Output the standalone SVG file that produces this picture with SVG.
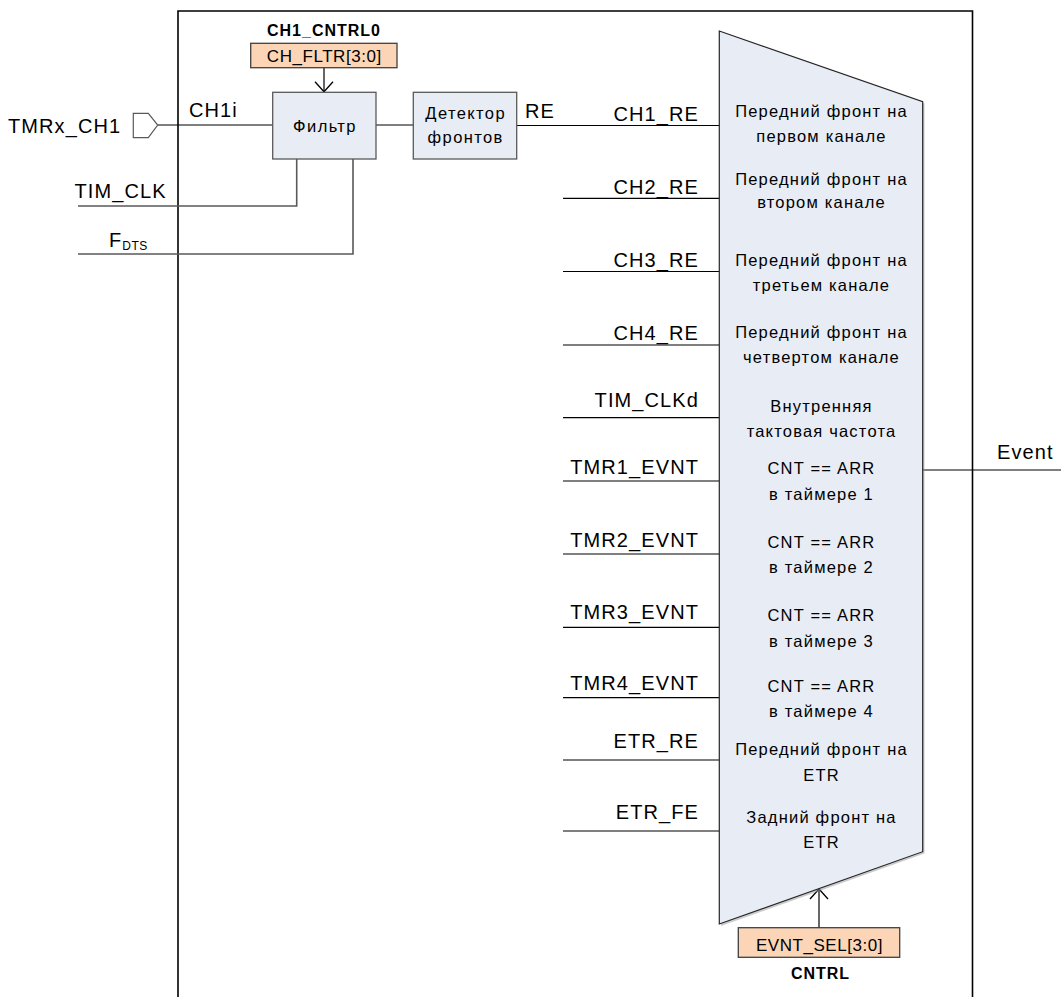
<svg xmlns="http://www.w3.org/2000/svg" width="1061" height="997" viewBox="0 0 1061 997">
  <style>
    text { font-family: "Liberation Sans", Arial, sans-serif; fill: #000; }
    .lbl { font-size: 20px; letter-spacing: 1.1px; }
    .lblr { font-size: 20px; letter-spacing: 1.1px; text-anchor: end; }
    .mux { font-size: 16.5px; letter-spacing: 1.2px; text-anchor: middle; }
    .box { font-size: 16.5px; letter-spacing: 1.4px; text-anchor: middle; }
    .reg { font-size: 17px; letter-spacing: 0.55px; text-anchor: middle; }
    .bold { font-size: 16px; font-weight: bold; letter-spacing: 1px; text-anchor: middle; }
    .blk { fill: #E8ECF4; stroke: #595959; stroke-width: 1.3; }
    .regbox { fill: #FBD5B5; stroke: #404040; stroke-width: 1.3; }
    .wire { fill: none; stroke: #000; stroke-width: 1.2; }
    .gwire { fill: none; stroke: #595959; stroke-width: 1.6; }
  </style>
  <defs>
    <marker id="openArrow" viewBox="0 0 12 20" refX="11" refY="10" markerWidth="12" markerHeight="20" markerUnits="userSpaceOnUse" orient="auto">
      <path d="M1,1 L11,10 L1,19" fill="none" stroke="#000" stroke-width="1.3"/>
    </marker>
  </defs>
  <rect x="0" y="0" width="1061" height="997" fill="#fff"/>

  <g id="frame">
    <path d="M178,997 V11 H972.5 V997" fill="none" stroke="#000" stroke-width="1.6"/>
  </g>

  <g id="connectors">
    <line class="wire" x1="157.7" y1="125" x2="272.7" y2="125"/>
    <line class="wire" x1="376" y1="125" x2="413.3" y2="125"/>
    <line class="wire" x1="516.7" y1="125.5" x2="719.3" y2="125.5"/>
    <path class="gwire" d="M78,206 H296.7 V159"/>
    <path class="gwire" d="M78,254 H353 V159"/>
    <line class="wire" x1="324" y1="67.7" x2="324" y2="91.8" marker-end="url(#openArrow)"/>
    <line class="wire" x1="819" y1="927.7" x2="819" y2="889" marker-end="url(#openArrow)"/>
    <line class="wire" x1="563" y1="198.3" x2="719.3" y2="198.3"/>
    <line class="wire" x1="563" y1="271.5" x2="719.3" y2="271.5"/>
    <line class="wire" x1="563" y1="345" x2="719.3" y2="345"/>
    <line class="wire" x1="563" y1="417.7" x2="719.3" y2="417.7"/>
    <line class="wire" x1="563" y1="481" x2="719.3" y2="481"/>
    <line class="wire" x1="563" y1="554" x2="719.3" y2="554"/>
    <line class="wire" x1="563" y1="627.3" x2="719.3" y2="627.3"/>
    <line class="wire" x1="563" y1="697.7" x2="719.3" y2="697.7"/>
    <line class="wire" x1="563" y1="760" x2="719.3" y2="760"/>
    <line class="wire" x1="563" y1="831" x2="719.3" y2="831"/>
    <line class="wire" x1="922.7" y1="470" x2="1061" y2="470"/>
  </g>

  <g id="pin-tmrx-ch1">
    <polygon points="133.3,113.3 148.3,113.3 157.7,125 148.3,137.7 133.3,137.7" fill="#fff" stroke="#595959" stroke-width="1.2"/>
    <text class="lbl" x="8" y="132.5">TMRx_CH1</text>
  </g>

  <g id="sig-labels">
    <text class="lbl" x="189" y="117.3">CH1i</text>
    <text class="lbl" x="74.5" y="198.3">TIM_CLK</text>
    <text class="lbl" x="109" y="247">F<tspan font-size="12" letter-spacing="0.5" dy="3">DTS</tspan></text>
    <text class="lbl" x="525" y="118">RE</text>
    <text class="lbl" x="997" y="459">Event</text>
    <text class="lblr" x="699" y="121">CH1_RE</text>
    <text class="lblr" x="699" y="194">CH2_RE</text>
    <text class="lblr" x="699" y="266.7">CH3_RE</text>
    <text class="lblr" x="699" y="340">CH4_RE</text>
    <text class="lblr" x="699" y="406.7">TIM_CLKd</text>
    <text class="lblr" x="699" y="474.3">TMR1_EVNT</text>
    <text class="lblr" x="699" y="546.7">TMR2_EVNT</text>
    <text class="lblr" x="699" y="619.3">TMR3_EVNT</text>
    <text class="lblr" x="699" y="690">TMR4_EVNT</text>
    <text class="lblr" x="699" y="748.3">ETR_RE</text>
    <text class="lblr" x="699" y="819.3">ETR_FE</text>
  </g>

  <g id="reg-ch1-cntrl0">
    <text class="bold" x="324" y="36">CH1_CNTRL0</text>
    <rect class="regbox" x="250.7" y="43.3" width="146.3" height="24.4"/>
    <text class="reg" x="324.3" y="61.7">CH_FLTR[3:0]</text>
  </g>

  <g id="filter">
    <rect class="blk" x="272.7" y="92.3" width="103.3" height="66.7"/>
    <text class="box" x="325" y="131.5">Фильтр</text>
  </g>

  <g id="edge-detector">
    <rect class="blk" x="413.3" y="92.3" width="103.4" height="66.7"/>
    <text class="box" x="465.7" y="119">Детектор</text>
    <text class="box" x="465.7" y="143.3">фронтов</text>
  </g>

  <g id="mux">
    <polygon points="721,33 924.5,103.5 924.5,853.5 721,926" fill="#9a9a9a" opacity="0.5"/>
    <polygon points="719.3,31 922.7,101.7 922.7,851.7 719.3,924" fill="#E8ECF4" stroke="#262626" stroke-width="1.2"/>
    <text class="mux" x="821.5" y="116.7">Передний фронт на</text>
    <text class="mux" x="821.5" y="141.7">первом канале</text>
    <text class="mux" x="821.5" y="185">Передний фронт на</text>
    <text class="mux" x="821.5" y="208.3">втором канале</text>
    <text class="mux" x="821.5" y="265.7">Передний фронт на</text>
    <text class="mux" x="821.5" y="290.7">третьем канале</text>
    <text class="mux" x="821.5" y="338.3">Передний фронт на</text>
    <text class="mux" x="821.5" y="363.3">четвертом канале</text>
    <text class="mux" x="821.5" y="411.7">Внутренняя</text>
    <text class="mux" x="821.5" y="436.7">тактовая частота</text>
    <text class="mux" x="821.5" y="474">CNT == ARR</text>
    <text class="mux" x="821.5" y="500">в таймере 1</text>
    <text class="mux" x="821.5" y="548.3">CNT == ARR</text>
    <text class="mux" x="821.5" y="573.3">в таймере 2</text>
    <text class="mux" x="821.5" y="620.7">CNT == ARR</text>
    <text class="mux" x="821.5" y="646.7">в таймере 3</text>
    <text class="mux" x="821.5" y="691.7">CNT == ARR</text>
    <text class="mux" x="821.5" y="717.3">в таймере 4</text>
    <text class="mux" x="821.5" y="755">Передний фронт на</text>
    <text class="mux" x="821.5" y="780.7">ETR</text>
    <text class="mux" x="821.5" y="822.7">Задний фронт на</text>
    <text class="mux" x="821.5" y="848.3">ETR</text>
  </g>

  <g id="reg-cntrl">
    <rect class="regbox" x="738.3" y="927.7" width="161.4" height="29.6"/>
    <text class="reg" x="819.5" y="950.7">EVNT_SEL[3:0]</text>
    <text class="bold" x="820.5" y="979">CNTRL</text>
  </g>
</svg>
